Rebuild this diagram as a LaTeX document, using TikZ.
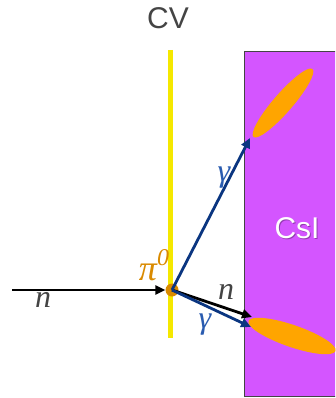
\documentclass[tikz,border=0pt]{standalone}
\usepackage{fontspec}
\newfontfamily\labfont{Liberation Sans}
\newfontfamily\serifit{Liberation Serif}[UprightFont=*-Italic]
\usetikzlibrary{arrows.meta,shadows}
\definecolor{cvyel}{HTML}{F5E800}
\definecolor{csipur}{HTML}{D455FF}
\definecolor{showor}{HTML}{FFA500}
\definecolor{vtxor}{HTML}{D98A00}
\definecolor{gblue}{HTML}{0A3580}
\definecolor{gtext}{HTML}{2A5CB0}
\definecolor{ngray}{HTML}{444444}
\tikzset{
  part/.style={line width=2.8pt,-{Triangle[length=10pt,width=9pt]}},
  lab/.style={font=\serifit\fontsize{32}{32}\selectfont, inner sep=0pt},
}
\begin{document}
\begin{tikzpicture}[x=1pt,y=-1pt]
\useasboundingbox (0,0) rectangle (335,398);
\begin{scope}
\clip (0,0) rectangle (335,398);
\node[draw=ngray, line width=1.2pt, fill=csipur, minimum width=100pt, minimum height=345pt, anchor=north west, inner sep=0pt] (csi) at (244,51) {};
\end{scope}
\node[text=csipur!70!black, font=\labfont\fontsize{30}{30}\selectfont] at (298,229) {CsI};
\node[text=white, font=\labfont\fontsize{30}{30}\selectfont] (csilab) at (297,228) {CsI};
\fill[showor, rotate around={49:(283,103)}] (283,103) ellipse [x radius=45, y radius=9.5];
\fill[showor, rotate around={-19:(292,336)}] (292,336) ellipse [x radius=46, y radius=11];
\node[text=ngray, font=\labfont\fontsize{30}{30}\selectfont] (cvlab) at (168,18) {CV};
\coordinate (cvtop) at (170,50);
\coordinate (cvbot) at (170,338);
\draw[cvyel, line width=5pt] (cvtop) -- (cvbot);
\coordinate (nin) at (12,290);
\node[circle, fill=vtxor, minimum size=13pt, inner sep=0pt] (vtx) at (172,290) {};
\coordinate (nend) at (252,317);
\coordinate (gend1) at (250,138);
\coordinate (gend2) at (251,327);
\draw[part, black] (nin) -- (vtx.west);
\draw[part, black] (vtx.center) -- (nend);
\draw[part, gblue] (vtx.center) -- (gend2);
\draw[part, gblue] (vtx.center) -- (gend1);
\node[lab, text=ngray] (nl1) at (43,300) {n};
\node[lab, text=ngray] (nl2) at (226,292) {n};
\node[lab, text=gtext] (gl1) at (224,178) {γ};
\node[lab, text=gtext] (gl2) at (205,325) {γ};
\node[lab, text=vtxor, font=\serifit\fontsize{36}{36}\selectfont] (pil) at (154,265) {π\raisebox{0.42em}{\fontsize{24}{24}\selectfont 0}};
\end{tikzpicture}
\end{document}
